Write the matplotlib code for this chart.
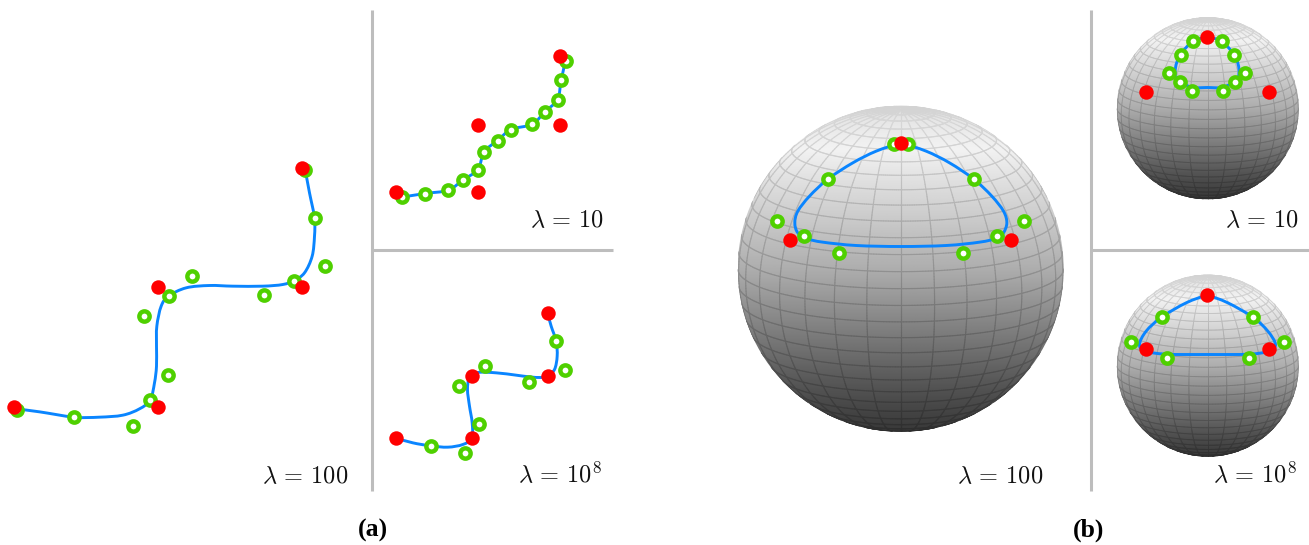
import numpy as np
import matplotlib
matplotlib.use("Agg")
import matplotlib.pyplot as plt
from matplotlib.collections import LineCollection
from matplotlib.patches import Circle, PathPatch
from matplotlib.path import Path

a100_red = [(42,772),(475,772),(475,413),(907,413),(907,54)]
a100_green = [(52,780),(224,803),(399,829),(452,752),(504,677),(434,499),(507,439),
              (578,379),(792,437),(884,393),(975,350),(945,205),(915,60)]
a100_curve = [(50,778),(120,787),(224,803),(300,803),(370,797),(420,778),(452,752),
              (465,700),(471,650),(471,590),(472,530),(485,470),(507,440),(560,415),
              (630,408),(700,410),(790,410),(850,405),(884,393),(915,370),(938,320),
              (945,260),(945,205),(930,130),(917,60)]

a10_red = [(80,488),(326,488),(326,285),(571,285),(571,80)]
a10_green = [(97,503),(166,492),(236,482),(281,451),(325,420),(344,367),(384,333),
             (425,300),(488,284),(527,246),(564,210),(575,152),(588,94)]
a10_curve = a10_green

a1e8_red = [(80,446),(307,446),(307,259),(534,259),(534,70)]
a1e8_green = [(183,469),(285,491),(328,402),(268,290),(345,228),(479,276),(587,240),(560,155)]
a1e8_curve = [(80,446),(130,460),(183,469),(235,473),(280,465),(307,446),(308,400),
              (300,350),(294,300),(300,265),(325,249),(380,250),(440,257),(479,262),
              (515,264),(534,259),(555,240),(563,200),(560,155),(545,110),(534,70)]

b100_red = [(182,451),(845,451),(514,160)]
b100_green = [(142,394),(224,438),(327,490),(295,269),(492,162),(536,162),(733,269),
              (701,490),(803,439),(884,394)]
b100_curve = [(514,160),(440,185),(370,220),(295,269),(240,320),(205,365),(196,400),
              (205,430),(235,448),(280,458),(380,468),(514,471),(650,468),(750,458),
              (803,446),(822,430),(832,400),(822,365),(787,320),(733,269),(660,220),
              (590,185),(514,160)]

b10_red = [(323,98),(138,262),(508,262)]
b10_green = [(281,110),(243,150),(208,205),(241,231),(276,258),(370,258),(405,231),
             (437,205),(403,150),(366,110)]
b10_curve = [(323,98),(281,110),(243,150),(228,190),(232,225),(276,248),(323,249),
             (370,248),(412,225),(418,190),(403,150),(366,110),(323,98)]

b1e8_red = [(323,106),(138,269),(508,269)]
b1e8_green = [(93,247),(186,173),(201,295),(448,295),(460,173),(553,247)]
b1e8_curve = [(323,106),(260,130),(186,173),(140,215),(120,255),(138,275),(201,284),
              (323,285),(448,284),(508,275),(528,255),(505,215),(460,173),(385,130),(323,106)]

panel_labels = [r"$\lambda\,=\,100$", r"$\lambda\,=\,10$", r"$\lambda\,=\,10^8$",
                r"$\lambda\,=\,100$", r"$\lambda\,=\,10$", r"$\lambda\,=\,10^8$"]
captions = ["(a)", "(b)"]

BLUE, GREEN, RED = "#0a85ff", "#4fd000", "#ff0000"
SEP = "#bdbdbd"

plt.rcParams["mathtext.fontset"] = "cm"
fig = plt.figure(figsize=(13.09, 5.45), dpi=100)
ax = fig.add_axes([0, 0, 1, 1])

SHADE_POS = [0, .04, .13, .5, .86, 1]
SHADE_VAL = [.86, .90, .95, .68, .33, .22]
LINE_POS = [0, .13, .35, .5, 1]
LINE_FAC = [.96, .87, .85, .84, .8]


def place(points, ox, oy):
    arr = np.asarray(points, float)
    return np.column_stack([ox - 0.5 + arr[:, 0] / 3, oy - 0.5 + arr[:, 1] / 3])


def curve_path(p):
    """Catmull-Rom through the read points, as cubic Bezier segments."""
    q = np.vstack([p[0], p, p[-1]])
    verts, codes = [p[0]], [Path.MOVETO]
    for i in range(1, len(q) - 2):
        verts += [q[i] + (q[i + 1] - q[i - 1]) / 6, q[i + 1] - (q[i + 2] - q[i]) / 6, q[i + 1]]
        codes += [Path.CURVE4] * 3
    return Path(verts, codes)


def sphere(cx, cy, r, lw):
    t = np.linspace(0, 1, 400)[:, None]
    shade = np.interp(t, SHADE_POS, SHADE_VAL)
    im = ax.imshow(shade, cmap="gray", vmin=0, vmax=1, aspect="auto",
                   extent=(cx - r, cx + r, cy + r, cy - r), zorder=1)
    clip = Circle((cx, cy), r, transform=ax.transData)
    im.set_clip_path(clip)
    tilt = np.radians(13)
    segs = []
    lats = np.radians(np.arange(-84, 85, 6))
    lons = np.radians(np.arange(0, 360, 12))
    fine_lon = np.radians(np.linspace(0, 360, 361))
    fine_lat = np.radians(np.linspace(-90, 90, 181))
    lines = [(np.full_like(fine_lon, la), fine_lon) for la in lats]
    lines += [(fine_lat, np.full_like(fine_lat, lo)) for lo in lons]
    for la, lo in lines:
        x = np.cos(la) * np.sin(lo)
        y0 = np.sin(la)
        z0 = np.cos(la) * np.cos(lo)
        y = y0 * np.cos(tilt) - z0 * np.sin(tilt)
        z = y0 * np.sin(tilt) + z0 * np.cos(tilt)
        px = cx + r * x
        py = cy - r * y
        for i in range(len(px) - 1):
            if z[i] > 0 and z[i + 1] > 0:
                segs.append([(px[i], py[i]), (px[i + 1], py[i + 1])])
    segs = np.array(segs)
    v = (segs[:, :, 1].mean(axis=1) - (cy - r)) / (2 * r)
    g = np.interp(v, SHADE_POS, SHADE_VAL) * np.interp(v, LINE_POS, LINE_FAC)
    lc = LineCollection(segs, colors=np.column_stack([g, g, g]), linewidths=lw,
                        zorder=2, capstyle="round")
    ax.add_collection(lc)
    lc.set_clip_path(clip)


def marks(curve, green, red, ox, oy):
    ax.add_patch(PathPatch(curve_path(place(curve, ox, oy)), fc="none", ec=BLUE, lw=2.1, zorder=3))
    g = place(green, ox, oy)
    ax.plot(g[:, 0], g[:, 1], ls="none", marker="o", ms=7.4, mfc="white", mec=GREEN, mew=3.2, zorder=4)
    c = place(red, ox, oy)
    ax.plot(c[:, 0], c[:, 1], ls="none", marker="o", ms=10.4, mfc=RED, mec="none", zorder=5)


sphere(900.7, 268.8, 163, 0.85)
sphere(1207.8, 108.3, 91, 0.65)
sphere(1207.8, 365.7, 91, 0.65)

marks(a100_curve, a100_green, a100_red, 0, 150)
marks(a10_curve, a10_green, a10_red, 370, 30)
marks(a1e8_curve, a1e8_green, a1e8_red, 370, 290)
marks(b100_curve, b100_green, b100_red, 730, 90)
marks(b10_curve, b10_green, b10_red, 1100, 5)
marks(b1e8_curve, b1e8_green, b1e8_red, 1100, 260)

for x0, x1 in ((372, 613), (1091, 1309)):
    ax.plot([x0, x0], [10, 491], color=SEP, lw=2.2, solid_capstyle="butt", zorder=1)
    ax.plot([x0, x1], [250, 250], color=SEP, lw=2.2, solid_capstyle="butt", zorder=1)

label_pos = [(348, 483), (604, 227), (602, 483), (1043, 483), (1299, 227), (1297, 483)]
for s, (x, y) in zip(panel_labels, label_pos):
    ax.text(x, y, s, ha="right", va="baseline", fontsize=17.5, color="#111111", zorder=6)
for s, x in zip(captions, (372.5, 1089)):
    ax.text(x, 537, s, ha="center", va="baseline", fontsize=18.5, fontweight="bold",
            family="Liberation Serif", color="black")

ax.set_xlim(0, 1309)
ax.set_ylim(545, 0)
ax.axis("off")
fig.savefig("out.png", dpi=100)
